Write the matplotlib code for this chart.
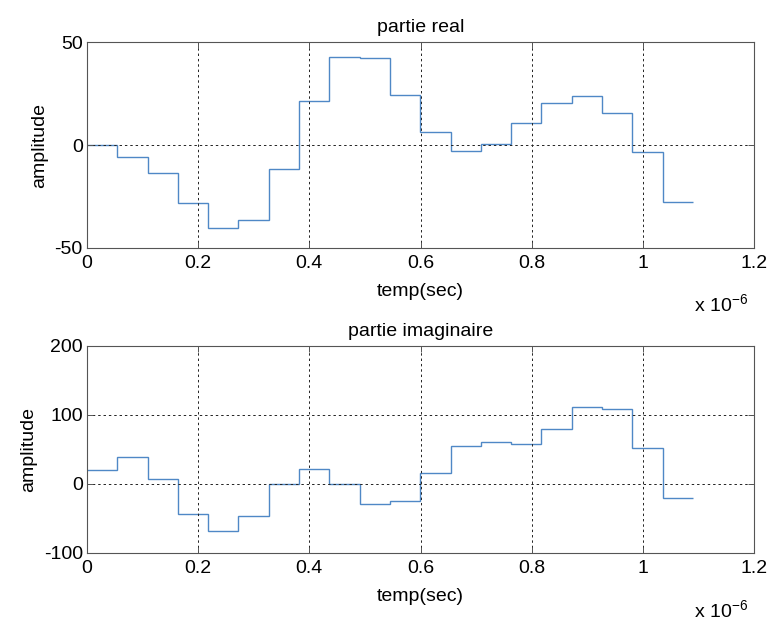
import numpy as np
import matplotlib
matplotlib.use("Agg")
import matplotlib.pyplot as plt

plt.rcParams['font.family'] = ['Liberation Sans', 'DejaVu Sans']
plt.rcParams['mathtext.fontset'] = 'custom'
plt.rcParams['mathtext.rm'] = 'Liberation Sans'
plt.rcParams['axes.unicode_minus'] = False

# sample period of the staircase signal (seconds)
dt = 0.0545e-6

real_part = [0, -5.7, -13.6, -28.0, -40.1, -36.4, -11.8, 21.5, 43.0, 42.2,
             24.4, 6.1, -2.7, 0.3, 10.7, 20.2, 23.8, 15.5, -3.6, -27.5]
imag_part = [20.4, 38.8, 7.3, -43.7, -68.9, -46.6, 0.0, 21.8, -0.5, -29.1,
             -25.2, 16.5, 54.4, 60.7, 58.3, 79.1, 111.7, 109.2, 51.5, -20.4]

x_ticks = [0, 0.2e-6, 0.4e-6, 0.6e-6, 0.8e-6, 1.0e-6, 1.2e-6]
x_labels = ['0', '0.2', '0.4', '0.6', '0.8', '1', '1.2']

panels = [
    ('partie real', real_part, (-50, 50), [-50, 0, 50]),
    ('partie imaginaire', imag_part, (-100, 200), [-100, 0, 100, 200]),
]

line_color = '#4f88c6'
fs = 14

fig = plt.figure(figsize=(7.68, 6.22), dpi=100)
rects = [[0.1133, 0.6013, 0.8685, 0.331], [0.1133, 0.111, 0.8685, 0.333]]

for rect, (title, vals, ylim, yticks) in zip(rects, panels):
    ax = fig.add_axes(rect)
    edges = np.arange(len(vals) + 1) * dt
    ax.stairs(vals, edges, color=line_color, lw=1.0, baseline=None)
    ax.set_xlim(0, 1.2e-6)
    ax.set_ylim(*ylim)
    ax.set_xticks(x_ticks)
    ax.set_xticklabels(x_labels)
    ax.set_yticks(yticks)
    ax.grid(True, color='#222222', linestyle=(0, (2.5, 3)), linewidth=0.7)
    ax.tick_params(direction='in', length=4, labelsize=fs, width=0.7,
                   top=True, right=True, color='#555555')
    ax.tick_params(axis='x', pad=5)
    ax.tick_params(axis='y', pad=3)
    for s in ax.spines.values():
        s.set_linewidth(0.8)
        s.set_color('#555555')
    ax.set_title(title, fontsize=fs, pad=7)
    ax.set_xlabel('temp(sec)', fontsize=fs, labelpad=8)
    ax.set_ylabel('amplitude', fontsize=fs, labelpad=5)
    ax.text(0.991, -0.277, r'x 10$^{\mathregular{-6}}$', transform=ax.transAxes,
            ha='right', va='center', fontsize=fs)

fig.savefig('out.png', dpi=100)
